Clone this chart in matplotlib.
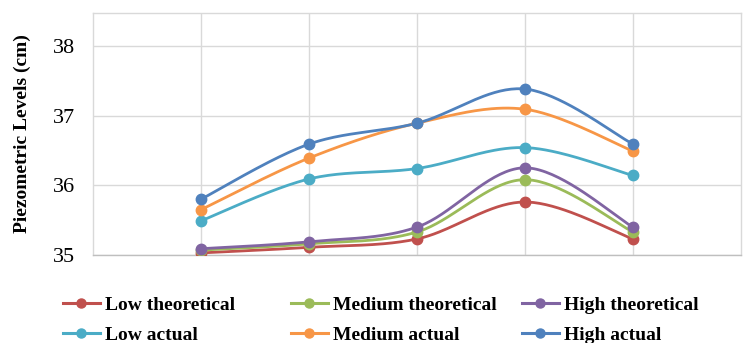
import matplotlib.pyplot as plt
import numpy as np
from matplotlib.lines import Line2D

x = [1, 2, 3, 4, 5]
low_theoretical = [35.03, 35.11, 35.23, 35.76, 35.23]
medium_theoretical = [35.07, 35.16, 35.33, 36.08, 35.33]
high_theoretical = [35.09, 35.19, 35.40, 36.25, 35.40]
low_actual = [35.49, 36.09, 36.24, 36.54, 36.14]
medium_actual = [35.65, 36.39, 36.89, 37.09, 36.49]
high_actual = [35.80, 36.59, 36.89, 37.38, 36.59]

series = [
    ("Low theoretical", low_theoretical, "#C0504D"),
    ("Medium theoretical", medium_theoretical, "#9BBB59"),
    ("High theoretical", high_theoretical, "#8064A2"),
    ("Low actual", low_actual, "#4BACC6"),
    ("Medium actual", medium_actual, "#F79646"),
    ("High actual", high_actual, "#4F81BD"),
]


def smooth(xs, ys, n=40):
    # bezier segments through the points, like a spreadsheet's smoothed line
    p = np.column_stack([xs, ys]).astype(float)
    pts = np.vstack([p[0], p, p[-1]])
    out = []
    for i in range(1, len(pts) - 2):
        p0, p1, p2, p3 = pts[i - 1], pts[i], pts[i + 1], pts[i + 2]
        c1 = p1 + (p2 - p0) / 6
        c2 = p2 - (p3 - p1) / 6
        t = np.linspace(0, 1, n)[:, None]
        seg = ((1 - t) ** 3 * p1 + 3 * (1 - t) ** 2 * t * c1
               + 3 * (1 - t) * t ** 2 * c2 + t ** 3 * p2)
        out.append(seg if i == 1 else seg[1:])
    curve = np.vstack(out)
    return curve[:, 0], curve[:, 1]


plt.rcParams['font.family'] = ['Liberation Serif', 'DejaVu Serif']

fig = plt.figure(figsize=(7.44, 3.43), dpi=100)
ax = fig.add_axes([93 / 744, 1 - 255 / 343, 648 / 744, 242 / 343])

handles = {}
for name, ys, color in series:
    sx, sy = smooth(x, ys)
    ax.plot(sx, sy, color=color, lw=2.0, solid_capstyle='round', zorder=3)
    ax.plot(x, ys, 'o', color=color, ms=7.5, zorder=4)
    handles[name] = Line2D([], [], color=color, lw=2.2, marker='o', ms=6.5)

ax.set_xlim(0, 6)
ax.set_ylim(35, 38.47)
ax.set_xticks([1, 2, 3, 4, 5])
ax.set_yticks([35, 36, 37, 38])
ax.tick_params(axis='x', length=0, labelbottom=False)
ax.tick_params(axis='y', length=0, labelsize=16, pad=13)
ax.grid(True, color='#D9D9D9', lw=1)
ax.set_axisbelow(True)
for s in ax.spines.values():
    s.set_color('#D9D9D9')
    s.set_linewidth(1)
ax.spines['bottom'].set_color('#BFBFBF')

ax.set_ylabel("Piezometric Levels (cm)", fontsize=14, fontweight='bold')
ax.yaxis.set_label_coords(-62 / 648, 0.5)

# legend laid out as three columns of two rows
columns = [("Low theoretical", "Low actual"),
           ("Medium theoretical", "Medium actual"),
           ("High theoretical", "High actual")]
col_x = [63, 291, 522]
for names, cx in zip(columns, col_x):
    leg = fig.legend([handles[k] for k in names], names, loc='center left',
                     bbox_to_anchor=(cx / 744, 1 - 320 / 343), frameon=False,
                     prop={'size': 14, 'weight': 'bold'}, handlelength=1.9,
                     handletextpad=0.25, labelspacing=0.62, borderpad=0,
                     borderaxespad=0)

fig.savefig("out.png", dpi=100)
